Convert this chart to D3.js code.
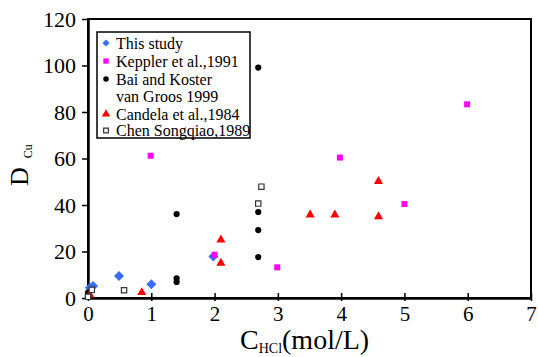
<!DOCTYPE html>
<html>
<head>
<meta charset="utf-8">
<script src="https://cdn.jsdelivr.net/npm/d3@7"></script>
<style>
  body { margin: 0; background: #fff; }
  svg text { font-family: "Liberation Serif", "Times New Roman", serif; fill: #000; }
</style>
</head>
<body>
<svg id="chart" width="538" height="357"></svg>
<script>
// data: [C_HCl (mol/L), D_Cu]
var thisStudy = [[0.03, 4.4], [0.08, 5.2], [0.49, 9.5], [1.0, 5.9], [1.98, 17.8]];
var keppler = [[0.99, 61.2], [2.0, 18.6], [2.99, 13.2], [3.98, 60.4], [5.0, 40.4], [5.99, 83.3]];
var baiKoster = [[0.0, 2.3], [1.4, 36.1], [1.4, 8.5], [1.4, 6.9], [2.69, 99.1],
  [2.69, 37.0], [2.69, 29.2], [2.69, 17.6]];
var candela = [[0.03, 1.4], [0.85, 2.4], [2.1, 25.0], [2.1, 15.0], [3.51, 35.8],
  [3.9, 35.8], [4.59, 35.0], [4.59, 50.2]];
var chenSongqiao = [[0.0, 0.5], [0.06, 3.5], [0.57, 3.3], [2.69, 40.6], [2.74, 47.9]];

var xTicks = [0, 1, 2, 3, 4, 5, 6, 7];
var yTicks = [0, 20, 40, 60, 80, 100, 120];

var seriesNames = ['This study', 'Keppler et al.,1991', 'Bai and Koster|van Groos 1999',
  'Candela et al.,1984', 'Chen Songqiao,1989'];

var serif = 'Liberation Serif, Times New Roman, serif';
var svg = d3.select('#chart');

var x = d3.scaleLinear().domain([0, 7]).range([88, 531]);
var y = d3.scaleLinear().domain([0, 120]).range([298, 19]);

// diamond = square turned 45 degrees
var series = [
  {name: seriesNames[0], data: thisStudy, shape: d3.symbolSquare, rot: 45, size: 50, legendSize: 26, fill: '#3a6cf4', stroke: 'none'},
  {name: seriesNames[1], data: keppler, shape: d3.symbolSquare, rot: 0, size: 36, legendSize: 28, fill: '#ff00ff', stroke: 'none'},
  {name: seriesNames[2], data: baiKoster, shape: d3.symbolCircle, rot: 0, size: 30, legendSize: 24, fill: '#000', stroke: 'none'},
  {name: seriesNames[3], data: candela, shape: d3.symbolTriangle, rot: 0, size: 36, legendSize: 30, fill: '#ff0000', stroke: 'none'},
  {name: seriesNames[4], data: chenSongqiao, shape: d3.symbolSquare, rot: 0, size: 28, legendSize: 22, fill: '#fff', stroke: '#333'}
];

// frame
svg.append('rect')
  .attr('x', x(0)).attr('y', y(120))
  .attr('width', x(7) - x(0)).attr('height', y(0) - y(120))
  .attr('fill', 'none').attr('stroke', '#000').attr('stroke-width', 2);

// axes with ticks crossing the line
var xAxis = svg.append('g').attr('transform', 'translate(0,' + y(0) + ')')
  .call(d3.axisBottom(x).tickValues(xTicks).tickFormat(d3.format('d'))
    .tickSizeInner(-5).tickSizeOuter(0));
xAxis.attr('font-family', serif).attr('font-size', 21);
xAxis.selectAll('.tick line').attr('y1', 3).attr('stroke-width', 1.5);
xAxis.select('.domain').attr('stroke-width', 2.5);
xAxis.selectAll('text').attr('font-family', serif).attr('font-size', 21)
  .attr('y', 16).attr('dy', '0.34em');

var yAxis = svg.append('g').attr('transform', 'translate(' + x(0) + ',0)')
  .call(d3.axisLeft(y).tickValues(yTicks).tickFormat(d3.format('d'))
    .tickSizeInner(6).tickSizeOuter(0));
yAxis.attr('font-family', serif).attr('font-size', 22);
yAxis.selectAll('.tick line').attr('x2', 0).attr('x1', -6).attr('stroke-width', 1.5);
yAxis.select('.domain').attr('stroke-width', 2.5);
yAxis.selectAll('text').attr('font-family', serif).attr('font-size', 22)
  .attr('x', -12).attr('dy', '0.34em');

// points
var groups = svg.selectAll('.series').data(series).enter()
  .append('g').classed('series', true);
groups.selectAll('path').data(function(s) {
  return s.data.map(function(d) { return {d: d, s: s}; });
}).enter().append('path')
  .attr('transform', function(p) {
    return 'translate(' + x(p.d[0]) + ',' + y(p.d[1]) + ') rotate(' + p.s.rot + ')';
  })
  .attr('d', function(p) { return d3.symbol().type(p.s.shape).size(p.s.size)(); })
  .attr('fill', function(p) { return p.s.fill; })
  .attr('stroke', function(p) { return p.s.stroke; })
  .attr('stroke-width', 1.2);

// legend
var legend = svg.append('g');
legend.append('rect')
  .attr('x', 97).attr('y', 32).attr('width', 153).attr('height', 106)
  .attr('fill', '#fff').attr('stroke', '#000').attr('stroke-width', 1.5);

var rowY = [43, 61, 79, 114, 130.5];
var legendItems = legend.selectAll('.item').data(series).enter()
  .append('g').classed('item', true)
  .attr('transform', function(s, i) { return 'translate(106,' + rowY[i] + ')'; });
legendItems.append('path')
  .attr('transform', function(s) { return 'rotate(' + s.rot + ')'; })
  .attr('d', function(s) { return d3.symbol().type(s.shape).size(s.legendSize)(); })
  .attr('fill', accessor('fill'))
  .attr('stroke', accessor('stroke'))
  .attr('stroke-width', 1.2);
legendItems.each(function(s) {
  var lines = s.name.split('|');
  var t = d3.select(this).append('text')
    .attr('font-family', serif)
    .attr('x', 10).attr('y', 5.5).attr('font-size', 16);
  lines.forEach(function(line, i) {
    t.append('tspan').attr('x', 10).attr('dy', i === 0 ? 0 : 17.5).text(line);
  });
});

// axis titles
var xTitle = svg.append('text').attr('font-family', serif)
  .attr('x', 240).attr('y', 349).attr('font-size', 28);
xTitle.append('tspan').text('C');
xTitle.append('tspan').attr('font-size', 14).attr('dy', 4).text('HCl');
xTitle.append('tspan').attr('dy', -4).text('(mol/L)');

var yTitle = svg.append('text')
  .attr('transform', 'rotate(-90)')
  .attr('x', -186).attr('y', 28)
  .attr('font-family', serif).attr('font-size', 26);
yTitle.append('tspan').text('D');
yTitle.append('tspan').attr('font-size', 12).attr('dx', 9).attr('dy', 4).text('Cu');

function accessor(key) {
  return function(d) { return d[key]; };
}
</script>
</body>
</html>
